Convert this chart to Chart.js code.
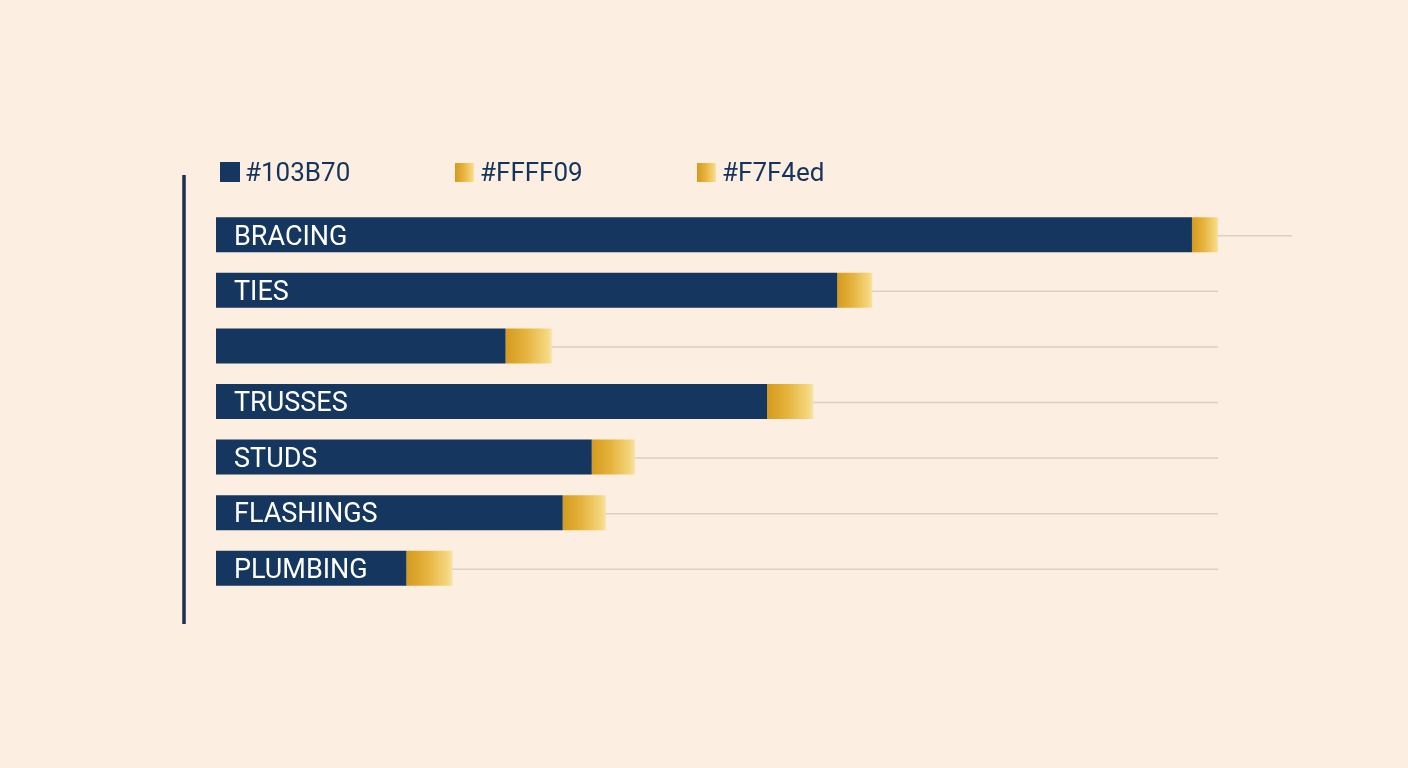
<!DOCTYPE html>
<html>
<head>
<meta charset="utf-8">
<script src="https://cdn.jsdelivr.net/npm/chart.js@4.4.1/dist/chart.umd.min.js"></script>
<style>
    html, body { margin: 0; padding: 0; background: #FCEEE0; }
    .chart_wrap { width: 1408px; height: 768px; position: relative; }
</style>
</head>
<body>
<div class="chart_wrap">
    <canvas id="bar_chart"></canvas>
</div>
<script>
// 分类（第三行没有标签）
var categories = ['BRACING', 'TIES', '', 'TRUSSES', 'STUDS', 'FLASHINGS', 'PLUMBING'];
var legend_names = ['#103B70', '#FFFF09', '#F7F4ed'];
// 深蓝主段
var navy_values = [97.4, 62.0, 28.9, 55.0, 37.5, 34.6, 19.0];
// 金色尾段
var gold_values = [2.6, 3.5, 4.6, 4.6, 4.3, 4.3, 4.6];
var x_max = 100;

var NAVY = '#14365F';
var INK = '#14345C';

function goldGradient(ctx, x0, x1) {
    var g = ctx.createLinearGradient(x0, 0, x1, 0);
    g.addColorStop(0, '#D49A1F');
    g.addColorStop(0.45, '#E6B43E');
    g.addColorStop(0.9, '#F5D77F');
    g.addColorStop(1, '#F8E2A6');
    return g;
}

function goldFill(context) {
    var chart = context.chart;
    var xs = chart.scales.x;
    if (!xs || context.dataIndex === undefined) return '#E2AE3A';
    var i = context.dataIndex;
    var x0 = xs.getPixelForValue(navy_values[i]);
    var x1 = xs.getPixelForValue(navy_values[i] + gold_values[i]);
    if (!isFinite(x0) || !isFinite(x1) || x1 <= x0) return '#E2AE3A';
    return goldGradient(chart.ctx, x0, x1);
}

// 行线 + 左侧竖线
var rowLines = {
    id: 'rowLines',
    beforeDatasetsDraw: function (chart) {
        var ctx = chart.ctx;
        var area = chart.chartArea;
        var ys = chart.scales.y;
        ctx.save();
        ctx.strokeStyle = '#D9D1C5';
        ctx.lineWidth = 1.5;
        for (let i = 0; i < categories.length; i++) {
            var y = ys.getPixelForValue(i) + 1;
            var right = i === 0 ? area.right + 74 : area.right;
            ctx.beginPath();
            ctx.moveTo(area.left, y);
            ctx.lineTo(right, y);
            ctx.stroke();
        }
        ctx.strokeStyle = '#1B3050';
        ctx.lineWidth = 3.5;
        ctx.beginPath();
        ctx.moveTo(area.left - 32, area.top - 32);
        ctx.lineTo(area.left - 32, area.bottom + 28);
        ctx.stroke();
        ctx.restore();
    }
};

// 条内文字 + 图例
var barText = {
    id: 'barText',
    afterDatasetsDraw: function (chart) {
        var ctx = chart.ctx;
        var area = chart.chartArea;
        var meta = chart.getDatasetMeta(0);
        ctx.save();
        ctx.font = '27px Roboto';
        ctx.textBaseline = 'middle';
        ctx.fillStyle = '#FFFFFF';
        for (let i = 0; i < categories.length; i++) {
            if (!categories[i]) continue;
            ctx.fillText(categories[i], area.left + 18, meta.data[i].y + 3);
        }

        // 图例
        ctx.font = '26px Roboto';
        var lx = [area.left + 4, area.left + 239, area.left + 481];
        var ly = area.top - 35;
        for (let k = 0; k < legend_names.length; k++) {
            var bx = lx[k];
            if (k === 0) {
                ctx.fillStyle = NAVY;
                ctx.fillRect(bx, ly - 10, 20, 20);
            } else {
                ctx.fillStyle = goldGradient(ctx, bx, bx + 19);
                ctx.fillRect(bx, ly - 9, 19, 19);
            }
            ctx.fillStyle = INK;
            ctx.fillText(legend_names[k], bx + 25, ly + 2);
        }
        ctx.restore();
    }
};

var ctx = document.getElementById('bar_chart').getContext('2d');
var chart = new Chart(ctx, {
    type: 'bar',
    data: {
        labels: categories,
        datasets: [{
            label: legend_names[0],
            data: navy_values,
            backgroundColor: NAVY
        }, {
            label: legend_names[1],
            data: gold_values,
            backgroundColor: goldFill
        }, {
            label: legend_names[2],
            data: [],
            backgroundColor: '#F7F4ED'
        }]
    },
    options: {
        indexAxis: 'y',
        responsive: true,
        maintainAspectRatio: false,
        animation: false,
        datasets: {
            bar: {
                barPercentage: 0.63,
                categoryPercentage: 1,
                borderWidth: 0
            }
        },
        layout: {
            padding: { left: 216, right: 190, top: 207, bottom: 172 }
        },
        scales: {
            x: { display: false, stacked: true, min: 0, max: x_max },
            y: { display: false, stacked: true }
        },
        plugins: {
            legend: { display: false },
            tooltip: { enabled: false }
        }
    },
    plugins: [rowLines, barText]
});
</script>
</body>
</html>
